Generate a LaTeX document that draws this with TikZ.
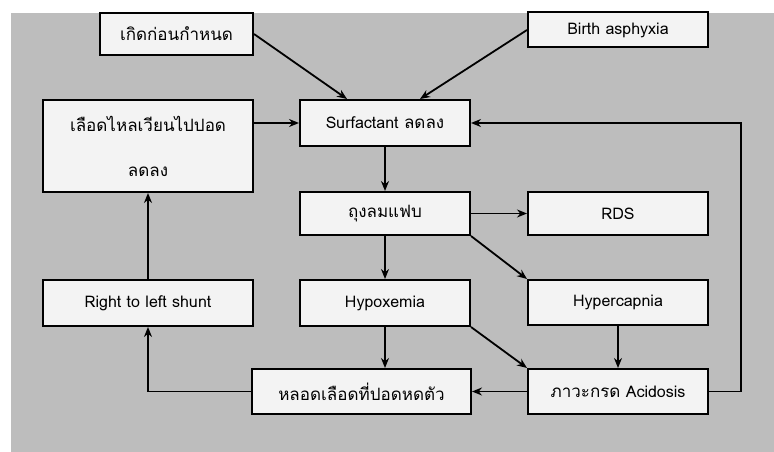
\documentclass[tikz,border=0pt]{standalone}
\usepackage{fontspec}
\setmainfont[Script=Thai]{Loma}
\usetikzlibrary{arrows.meta, positioning, calc}
\definecolor{bggray}{HTML}{BDBDBD}
\definecolor{boxfill}{HTML}{F3F3F3}
\newcommand{\thtext}[1]{{\fontsize{17}{22}\selectfont #1}}

\begin{document}
\begin{tikzpicture}[x=1pt, y=-1pt,
  box/.style={draw, line width=2pt, fill=boxfill, inner sep=0pt, align=center,
    font=\fontsize{16}{22}\selectfont},
  arr/.style={-{Stealth[length=10pt, width=8pt]}, line width=1.8pt}]
  \useasboundingbox (0,0) rectangle (774,452);
  % Background
  \fill[bggray] (11,13) rectangle (774,452);

  % Causes
  \node[box, minimum width=153pt, minimum height=42pt] (preterm) at (176.5,34) {\thtext{เกิดก่อนกำหนด}};
  \node[box, minimum width=180pt, minimum height=35pt] (asphyxia) at (618,30) {Birth asphyxia};

  % Middle column
  \node[box, minimum width=170pt, minimum height=46pt] (surf) at (385,123) {Surfactant \thtext{ลดลง}};
  \node[box, minimum width=170pt, minimum height=43pt] (alveoli) at (385,213.5) {\thtext{ถุงลมแฟบ}};
  \node[box, minimum width=170pt, minimum height=46pt] (hypox) at (385,303) {Hypoxemia};
  \node[box, minimum width=219pt, minimum height=45pt] (vaso) at (361.5,391.5) {\thtext{หลอดเลือดที่ปอดหดตัว}};

  % Right column
  \node[box, minimum width=180pt, minimum height=43pt] (rds) at (618,213.5) {RDS};
  \node[box, minimum width=180pt, minimum height=45pt] (hypercap) at (618,302.5) {Hypercapnia};
  \node[box, minimum width=180pt, minimum height=45pt] (acid) at (618,391.5) {\thtext{ภาวะกรด} Acidosis};

  % Left column
  \node[box, minimum width=210pt, minimum height=92pt, font=\fontsize{17}{45}\selectfont] (bloodflow) at (148,146) {เลือดไหลเวียนไปปอด\\ลดลง};
  \node[box, minimum width=210pt, minimum height=46pt] (shunt) at (148,303) {Right to left shunt};

  % Arrows
  \draw[arr] (preterm.east) -- ([xshift=-38pt]surf.north);
  \draw[arr] (asphyxia.west) -- ([xshift=35pt]surf.north);
  \draw[arr] (bloodflow.east |- surf.west) -- (surf.west);
  \draw[arr] (surf) -- (alveoli);
  \draw[arr] (alveoli) -- (rds);
  \draw[arr] (alveoli.south east) -- (hypercap.north west);
  \draw[arr] (alveoli) -- (hypox);
  \draw[arr] (hypox.south) -- (hypox.south |- vaso.north);
  \draw[arr] (hypox.south east) -- (acid.north west);
  \draw[arr] (hypercap) -- (acid);
  \draw[arr] (acid) -- (vaso);
  \draw[arr] (acid.east) -- ++(32,0) |- (surf.east);
  \draw[arr] (vaso.west) -| (shunt.south);
  \draw[arr] (shunt) -- (bloodflow);
\end{tikzpicture}
\end{document}
